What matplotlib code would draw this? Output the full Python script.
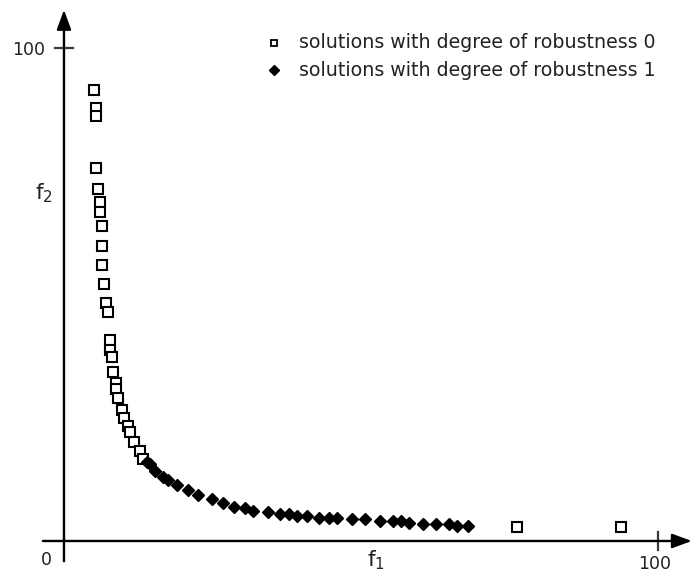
import matplotlib
matplotlib.use('Agg')
import matplotlib.pyplot as plt

# solutions with degree of robustness 0 (open squares)
f1_rob0 = [5.05, 5.39, 5.39, 5.39, 5.72, 6.06, 6.06, 6.40, 6.40, 6.40,
           6.73, 7.07, 7.41, 7.74, 7.74, 8.08, 8.25, 8.75, 8.75, 9.09,
           9.76, 10.1, 10.8, 11.1, 11.8, 12.8, 13.3, 76.3, 93.8]
f2_rob0 = [91.5, 87.8, 86.2, 75.7, 71.4, 68.8, 66.7, 63.9, 59.8, 56.0,
           52.1, 48.3, 46.4, 40.8, 38.7, 37.3, 34.3, 32.0, 30.8, 29.0,
           26.6, 24.9, 23.3, 22.1, 20.1, 18.3, 16.6, 2.8, 2.8]

# solutions with degree of robustness 1 (filled diamonds)
f1_rob1 = [14.0, 14.5, 15.3, 16.7, 17.5, 19.0, 20.9, 22.6, 24.9, 26.8,
           28.6, 30.5, 31.8, 34.3, 36.4, 37.9, 39.2, 40.9, 42.9, 44.6,
           46.0, 48.5, 50.7, 53.2, 55.4, 56.7, 58.1, 60.4, 62.6, 64.8,
           66.2, 68.0]
f2_rob1 = [16.0, 15.6, 14.2, 13.0, 12.4, 11.4, 10.3, 9.3, 8.5, 7.7,
           6.9, 6.7, 6.1, 5.9, 5.5, 5.5, 5.1, 5.1, 4.7, 4.7,
           4.7, 4.5, 4.5, 4.1, 4.1, 4.1, 3.7, 3.4, 3.4, 3.4,
           3.0, 3.0]

legend_labels = ['solutions with degree of robustness 0',
                 'solutions with degree of robustness 1']

axis_col = '#3a3a3a'
fs = 12.5

fig = plt.figure(figsize=(6.93, 5.83), dpi=100)
ax = fig.add_axes([0, 0, 1, 1])
ax.set_xlim(-10.77, 105.9)
ax.set_ylim(-8.52, 109.7)
ax.axis('off')

# axes with arrows
arrow = dict(arrowstyle='-|>,head_length=0.6,head_width=0.22', color='black',
             lw=1.6, mutation_scale=20, shrinkA=0, shrinkB=0)
ax.annotate('', xy=(105.7, 0), xytext=(-3.5, 0), arrowprops=arrow)
ax.annotate('', xy=(0, 107.7), xytext=(0, -4.1), arrowprops=arrow)
ax.plot([-3.5, 104], [0, 0], color=axis_col, lw=1.6, zorder=2)
ax.plot([0, 0], [-4.1, 106], color=axis_col, lw=1.6, zorder=2)

# ticks at 100
ax.plot([-1.5, 1.5], [100, 100], color=axis_col, lw=1.6)
ax.plot([100, 100], [-1.8, 1.8], color=axis_col, lw=1.6)
ax.text(-3.2, 99.6, '100', ha='right', va='center', fontsize=fs, color='#222222')
ax.text(99.5, -4.7, '100', ha='center', va='center', fontsize=fs, color='#222222')
ax.text(-3.0, -3.9, '0', ha='center', va='center', fontsize=fs, color='#222222')

# axis labels
ax.text(-4.9, 73.0, r'f$_\mathregular{2}$', ha='left', va='top', fontsize=fs + 3, color='#222222')
ax.text(51.0, -1.6, r'f$_\mathregular{1}$', ha='left', va='top', fontsize=fs + 3, color='#222222')

# data
ax.plot(f1_rob0, f2_rob0, linestyle='none', marker='s', ms=6.6, mfc='white',
        mec='black', mew=1.5, zorder=3)
ax.plot(f1_rob1, f2_rob1, linestyle='none', marker='D', ms=6.6, mfc='black',
        mec='black', mew=1.0, zorder=4)

# legend
ax.plot([35.4], [101.0], linestyle='none', marker='s', ms=4.8, mfc='white',
        mec='black', mew=1.3)
ax.plot([35.4], [95.5], linestyle='none', marker='D', ms=5.2, mfc='black', mec='black')
ax.text(39.6, 101.0, legend_labels[0], ha='left', va='center', fontsize=13.7, color='#222222')
ax.text(39.6, 95.5, legend_labels[1], ha='left', va='center', fontsize=13.7, color='#222222')

fig.savefig('out.png', dpi=100)
